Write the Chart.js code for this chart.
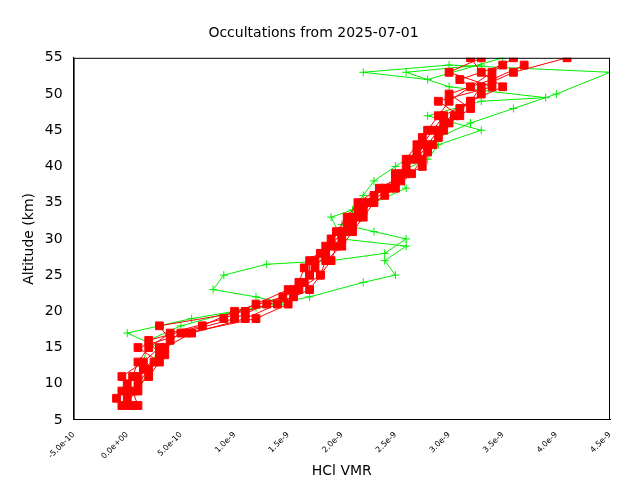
<!DOCTYPE html>
<html><head><meta charset="utf-8">
<script src="https://cdn.jsdelivr.net/npm/chart.js@4"></script>
<style>body{margin:0;background:#fff}#w{width:640px;height:480px}</style>
</head><body><div id="w"><canvas id="c"></canvas></div>
<script>
const altitudes=[7,9,11,13,15,17,19,21,23,25,27,29,31,33,35,37,39,41,43,45,47,49,51,53,55];
const altitudes2=[8,10,12,14,16,18,20,22,24,26,28,30,32,34,36,38,40,42,44,46,48,50,52,54];
const red1=[0.0,-0.05,0.05,0.1,0.2,0.4,0.9,1.2,1.5,1.7,1.75,1.9,2.0,2.1,2.2,2.4,2.55,2.6,2.7,2.8,2.9,3.0,3.2,3.4,3.6];
const red2=[0.05,0.0,-0.05,0.15,0.3,0.5,1.0,1.3,1.6,1.8,1.85,2.0,2.1,2.2,2.3,2.5,2.65,2.75,2.85,2.95,3.05,3.2,3.3,3.6,4.1];
const red3=[-0.05,0.1,0.1,0.25,0.35,0.6,1.1,1.4,1.7,1.8,1.9,1.95,2.05,2.15,2.25,2.45,2.5,2.7,2.8,2.9,3.1,2.9,3.4,3.0,3.3];
const red4=[0.1,0.05,0.2,0.3,0.1,0.55,1.2,1.5,1.55,1.7,1.7,1.85,1.95,2.05,2.15,2.35,2.6,2.65,2.75,2.85,2.95,3.2,3.5,3.3,3.2];
const red5=[-0.1,0.0,0.15,0.3,0.2,0.7,1.0,1.45,1.65,1.75,1.85,2.0,2.05,2.2,2.4,2.5,2.75,2.8,2.75,2.95,3.1,3.3,3.1,3.5];
const red6=[0.0,0.1,0.2,0.35,0.4,0.3,1.1,1.55,1.6,1.65,1.8,1.9,2.1,2.15,2.3,2.55,2.6,2.7,2.9,3.0,3.2,3.0,3.4,3.7];
const green1X=[0.0,0.1,0.15,0.2,0.5,1.0,1.5,1.2,0.8,0.9,1.3,1.9,2.4,2.6,2.3,2.0,2.1,2.2,2.3,2.5,2.7,2.9,3.2,3.6,4.0,4.5,3.0,2.2,2.8,3.5];
const green1Y=[8,10,13,16,18,20,21,22,23,25,26.5,27,28,30,31,32,34,36,38,40,42,44,46,48,50,53,54,53,52,55];
const green2X=[0.1,0.2,0.3,0.0,0.6,1.2,1.7,2.2,2.5,2.4,2.6,2.0,1.9,2.3,2.6,2.5,2.8,2.9,3.3,2.8,3.3,3.9,3.0,2.6,3.3];
const green2Y=[9,12,15,17,19,20.5,22,24,25,27,29,30,33,35,37,39,41,43,45,47,49,49.5,51,53,54];
const xTicks=[-0.5,0,0.5,1,1.5,2,2.5,3,3.5,4,4.5];
const yTicks=[5,10,15,20,25,30,35,40,45,50,55];

function pts(xs,ys){return xs.map((x,i)=>({x:x,y:ys[i]}));}
function redDs(xs,ys){return {data:pts(xs,ys),showLine:true,borderColor:'#ff0000',backgroundColor:'#ff0000',borderWidth:1,pointStyle:'rect',pointRadius:5.5,order:1};}
function greenDs(xs,ys){return {data:pts(xs,ys),showLine:true,borderColor:'#00ee00',backgroundColor:'#00ee00',borderWidth:1,pointStyle:'cross',pointRadius:4,pointBorderWidth:1,order:2};}
function fmt(v){if(Math.abs(v)<1e-12)return '0.0e+00';return (v*1e-9).toExponential(1);}
new Chart(document.getElementById('c'),{type:'scatter',
data:{datasets:[greenDs(green1X,green1Y),greenDs(green2X,green2Y),redDs(red1,altitudes),redDs(red2,altitudes),redDs(red3,altitudes),redDs(red4,altitudes),redDs(red5,altitudes2),redDs(red6,altitudes2)]},
options:{responsive:true,maintainAspectRatio:false,animation:false,
layout:{padding:{left:17,right:30,top:15,bottom:0}},
plugins:{legend:{display:false},tooltip:{enabled:false},
title:{display:true,text:'Occultations from 2025-07-01',color:'#000',font:{family:'DejaVu Sans',size:14,weight:'normal'},padding:{top:10,bottom:16}}},
scales:{
x:{type:'linear',min:-0.5,max:4.5,afterBuildTicks:s=>{s.ticks=xTicks.map(v=>({value:v}));},
ticks:{callback:fmt,maxRotation:45,minRotation:45,color:'#000',font:{family:'DejaVu Sans',size:8},padding:2},
grid:{display:false},border:{color:'#000'},
title:{display:true,text:'HCl VMR',color:'#000',font:{family:'DejaVu Sans',size:14},padding:{top:0,bottom:0}}},
y:{min:5,max:55,afterBuildTicks:s=>{s.ticks=yTicks.map(v=>({value:v}));},
ticks:{color:'#000',font:{family:'DejaVu Sans',size:14}},
grid:{display:false},border:{color:'#000'},
title:{display:true,text:'Altitude (km)',color:'#000',font:{family:'DejaVu Sans',size:14}}}}},
plugins:[{id:'box',afterDraw(c){const a=c.chartArea,g=c.ctx;g.save();g.strokeStyle='#000';g.lineWidth=1;g.strokeRect(a.left+0.5,a.top+0.5,a.right-a.left-1,a.bottom-a.top-1);g.restore();}}]
});
</script></body></html>
